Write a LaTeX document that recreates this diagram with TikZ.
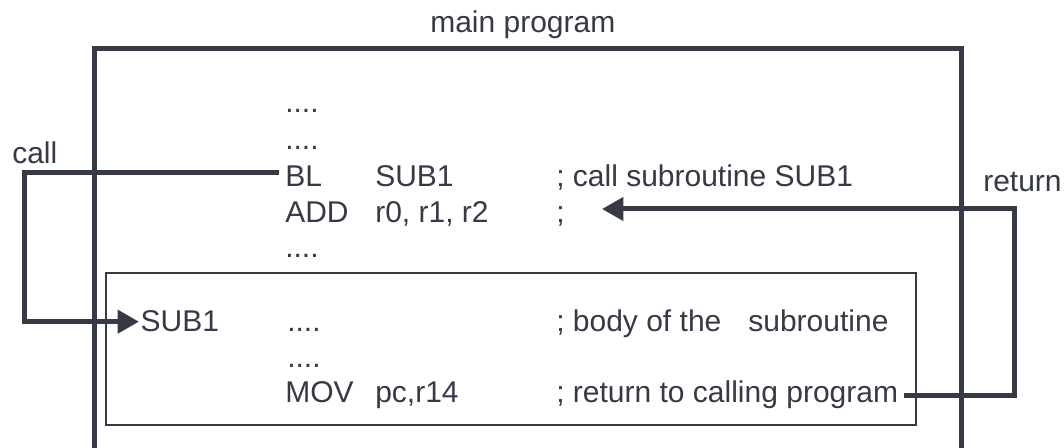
\documentclass[tikz,border=0pt]{standalone}
\usepackage{fontspec}
\setmainfont{Liberation Sans}
\usepackage{xcolor}
\definecolor{ink}{RGB}{54,58,69}
\colorlet{paper}{white}
\usetikzlibrary{arrows.meta}
\newlength\flowwidth
\setlength\flowwidth{3.75pt}
\tikzset{
  code/.style={anchor=base west, inner xsep=4.5pt, inner ysep=0pt, text=ink,
    font=\fontsize{22.5}{27}\selectfont},
  progframe/.style={draw=ink, line width=\flowwidth},
  subframe/.style={draw=ink, line width=1.1pt},
  flow/.style={draw=ink, line width=\flowwidth,
    -{Triangle[length=16pt, width=17pt]}},
}

\begin{document}
\begin{tikzpicture}[x=0.75pt, y=-0.75pt]
% page
\fill[paper] (0,0) rectangle (1064,448);
\clip (0,0) rectangle (1064,448);
% frames
\draw[progframe] (94,49) rectangle (961,480);
\draw[subframe] (106,273) rectangle (916,425);
% labels
\node[code] (title) at (424,33) {main program};
\node[code] (calllabel) at (6,164) {call};
\node[code] (retlabel) at (977,192) {return};
% main program
\node[code] (dotsa) at (279,113) {....};
\node[code] (dotsb) at (279,150) {....};
\node[code] (bl) at (279,187) {BL};
\node[code] (blarg) at (369,187) {SUB1};
\node[code] (blnote) at (550,187) {; call subroutine SUB1};
\node[code] (add) at (279,223) {ADD};
\node[code] (addarg) at (369,223) {r0, r1, r2};
\node[code] (addnote) at (550,223) {;};
\node[code] (dotsc) at (279,258) {....};
% subroutine
\node[code, inner xsep=1pt] (sub) at (139,332) {SUB1};
\node[code] (dotsd) at (281,332) {....};
\node[code] (subnote) at (550,332) {; body of the\hspace{0.9em}subroutine};
\node[code] (dotse) at (281,368) {....};
\node[code] (mov) at (279,403) {MOV};
\node[code] (movarg) at (369,403) {pc,r14};
\node[code] (movnote) at (550,403) {; return to calling program};
% call and return
\coordinate (callx) at (24,0);
\coordinate (retx) at (1014,0);
\coordinate (back) at (602,209);
\draw[flow] ([yshift=3pt]bl.west) -| (callx |- sub.west) -- (sub.west);
\draw[flow] (movnote.east) -| (retx |- back) -- (back);
\end{tikzpicture}
\end{document}
